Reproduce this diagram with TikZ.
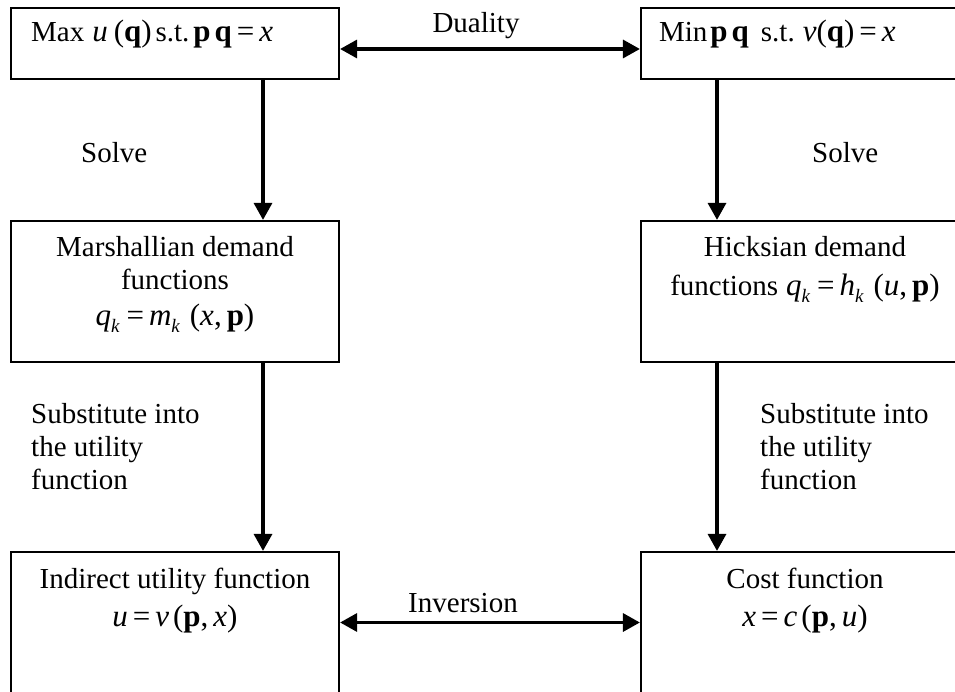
\documentclass[tikz,border=0pt]{standalone}
\usepackage{fontspec}
\setmainfont{Liberation Serif}
\usetikzlibrary{arrows.meta,positioning}
\newcommand{\bv}[1]{\textbf{#1}}
\newcommand{\iv}[1]{\textit{#1}}
\newcommand{\fml}[1]{{\fontsize{31}{33}\selectfont #1}}
\newcommand{\sbk}{\raisebox{-7pt}{\fontsize{19}{19}\selectfont\itshape k}\kern2pt}
\newcommand{\eqs}{\kern5pt=\kern5pt}
\newcommand{\gap}{\kern8pt}
\begin{document}
\begin{tikzpicture}[x=1pt, y=-1pt,
    every node/.style={font=\fontsize{29}{33}\selectfont, inner sep=0pt},
    box/.style={draw, line width=2.2pt, minimum width=328pt, minimum height=#1},
    box/.default=141pt,
    flow/.style={line width=3.3pt, -{Triangle[length=17pt,width=18pt]}},
    twoway/.style={line width=3.3pt, {Triangle[length=17pt,width=18pt]}-{Triangle[length=17pt,width=18pt]}}]
    \useasboundingbox (0,0) rectangle (955,692);
    % boxes
    \node[box=71pt] (maxu) at (175,43.5) {};
    \node[box=71pt] (minc) at (805,43.5) {};
    \node[box] (marsh) at (175,291.5) {};
    \node[box] (hicks) at (805,291.5) {};
    \node[box] (indir) at (175,622.5) {};
    \node[box] (cost) at (805,622.5) {};
    % text in the boxes
    \node[below right=13pt and 21pt of maxu.north west] (maxut)
        {Max\gap\fml{\iv{u}\kern6pt(\bv{q})}\kern4pt s.t.\kern4pt\fml{\bv{p}\kern4pt\bv{q}\eqs\iv{x}}};
    \node[below right=13pt and 19pt of minc.north west] (minct)
        {Min\kern3pt\fml{\bv{p}\kern4pt\bv{q}}\kern12pt s.t.\gap\fml{\iv{v}(\bv{q})\eqs\iv{x}}};
    \node[below=16pt of marsh.north, align=center] (marsht)
        {Marshallian demand\\functions\\[3pt]\fml{\iv{q}\sbk\eqs\iv{m}\sbk\gap(\iv{x},\kern5pt\bv{p})}};
    \node[below=16pt of hicks.north, align=center] (hickst)
        {Hicksian demand\\[6pt]functions\gap\fml{\iv{q}\sbk\eqs\iv{h}\sbk\gap(\iv{u},\kern5pt\bv{p})}};
    \node[below=17pt of indir.north, align=center] (indirt)
        {Indirect utility function\\[5pt]\fml{\iv{u}\eqs\iv{v}\kern4pt(\bv{p},\kern5pt\iv{x})}};
    \node[below=17pt of cost.north, align=center] (costt)
        {Cost function\\[5pt]\fml{\iv{x}\eqs\iv{c}\kern4pt(\bv{p},\kern5pt\iv{u})}};
    % labels
    \node[anchor=base] (duallbl) at (476,33) {Duality};
    \node[anchor=base] (invlbl) at (463,612) {Inversion};
    \node[anchor=base west] (solvel) at (81,163) {Solve};
    \node[anchor=base west] (solver) at (812,163) {Solve};
    \node[anchor=north west, align=left] (substl) at (31,403)
        {Substitute into\\the utility\\function};
    \node[anchor=north west, align=left] (substr) at (760,403)
        {Substitute into\\the utility\\function};
    % arrows
    \draw[flow] ([xshift=88pt]maxu.south) -- ([xshift=88pt]marsh.north);
    \draw[flow] ([xshift=-88pt]minc.south) -- ([xshift=-88pt]hicks.north);
    \draw[flow] ([xshift=88pt]marsh.south) -- ([xshift=88pt]indir.north);
    \draw[flow] ([xshift=-88pt]hicks.south) -- ([xshift=-88pt]cost.north);
    \draw[twoway] ([yshift=-5.5pt]maxu.east) -- ([yshift=-5.5pt]minc.west);
    \draw[twoway] (indir) -- (cost);
\end{tikzpicture}
\end{document}
